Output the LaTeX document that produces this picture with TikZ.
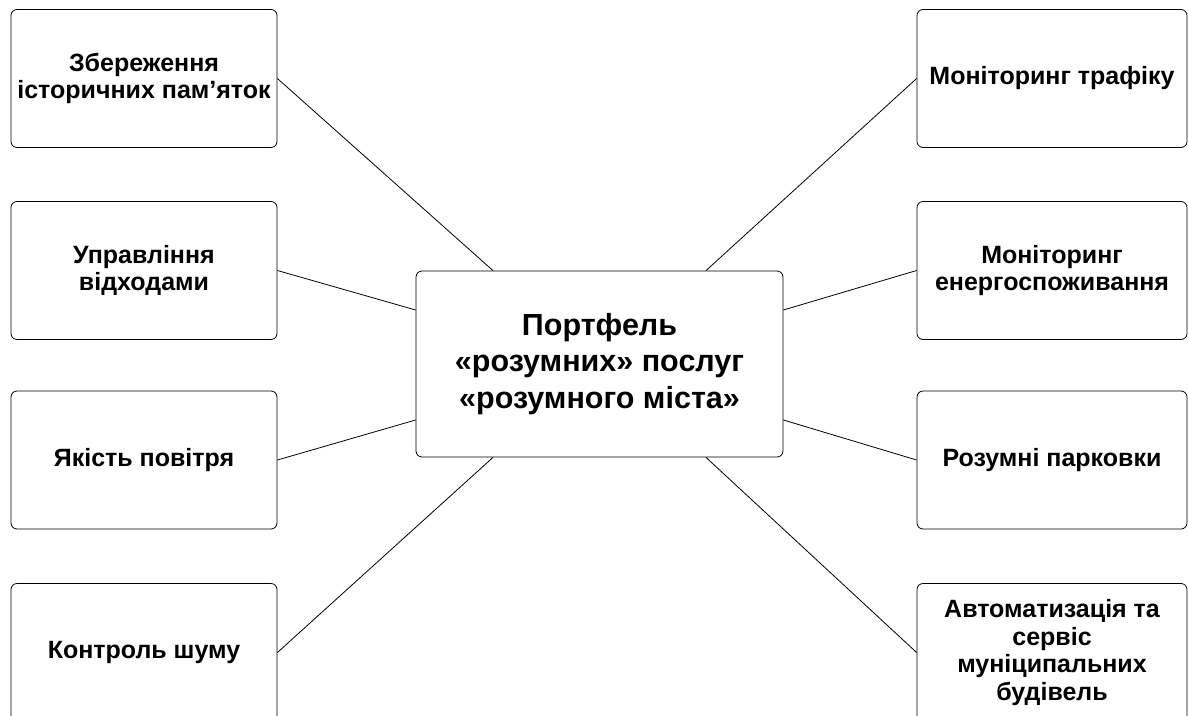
\documentclass[tikz,border=0pt]{standalone}
\usepackage{fontspec}
\setmainfont{Liberation Sans}
\usetikzlibrary{positioning}
\begin{document}
\begin{tikzpicture}[x=1pt,y=-1pt,
  leaf/.style={draw=black,line width=0.8pt,rounded corners=6pt,minimum height=138pt,align=center,inner sep=0pt,
    font=\fontsize{25}{27.7}\selectfont\bfseries},
  leafL/.style={leaf,minimum width=266pt},
  leafR/.style={leaf,minimum width=270pt},
  hub/.style={draw=black,line width=0.8pt,rounded corners=6pt,minimum width=367pt,minimum height=186pt,align=center,inner sep=0pt,
    font=\fontsize{30.5}{36.7}\selectfont\bfseries},
  link/.style={draw=black,line width=0.8pt}]
\useasboundingbox (0,0) rectangle (1188,715);
\clip (0,0) rectangle (1188,715);
\fill[white] (0,0) rectangle (1188,715);
\node[hub] (c) at (599.5,364) {Портфель\\«розумних» послуг\\«розумного міста»};
\node[leafL] (l1) at (144,78.5) {Збереження\\історичних пам’яток};
\node[leafL] (l2) at (144,270.5) {Управління\\відходами};
\node[leafL] (l3) at (144,460) {Якість повітря};
\node[leafL] (l4) at (144,652.5) {Контроль шуму};
\node[leafR] (r1) at (1052,78.5) {Моніторинг трафіку};
\node[leafR] (r2) at (1052,270.5) {Моніторинг\\енергоспоживання};
\node[leafR] (r3) at (1052,460) {Розумні парковки};
\node[leafR] (r4) at (1052,652.5) {Автоматизація та\\сервіс\\муніципальних\\будівель};
\coordinate (cnw) at ([xshift=-106.5pt]c.north);
\coordinate (cne) at ([xshift=106.5pt]c.north);
\coordinate (csw) at ([xshift=-106.5pt]c.south);
\coordinate (cse) at ([xshift=106.5pt]c.south);
\coordinate (cwn) at ([yshift=54pt]c.west);
\coordinate (cws) at ([yshift=-56pt]c.west);
\coordinate (cen) at ([yshift=54pt]c.east);
\coordinate (ces) at ([yshift=-56pt]c.east);
\draw[link] (l1.east) -- (cnw);
\draw[link] (l2.east) -- (cwn);
\draw[link] (l3.east) -- (cws);
\draw[link] (l4.east) -- (csw);
\draw[link] (r1.west) -- (cne);
\draw[link] (r2.west) -- (cen);
\draw[link] (r3.west) -- (ces);
\draw[link] (r4.west) -- (cse);
\end{tikzpicture}
\end{document}
